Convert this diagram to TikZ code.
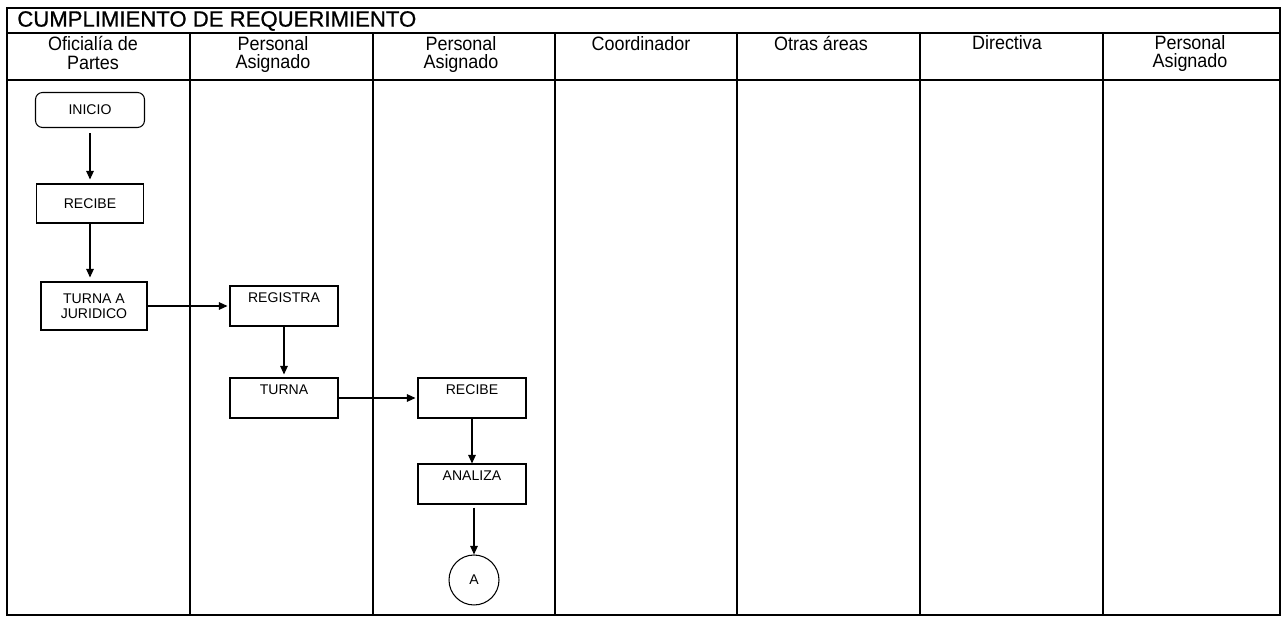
\documentclass[tikz,border=0pt]{standalone}
\usepackage{fontspec}
\setmainfont{Liberation Sans}
\newfontfamily\narrowfont[FakeStretch=0.93]{Liberation Sans}
\newfontfamily\titlefont[FakeBold=0.8]{Liberation Sans}
\usetikzlibrary{arrows.meta}

\tikzset{
  lane/.style={line width=0.8pt},
  lanehead/.style={anchor=north, align=center, inner sep=0pt,
    font=\narrowfont\fontsize{11}{10.6}\selectfont},
  caja/.style={draw, line width=0.6pt, align=center, inner sep=0pt,
    font=\fontsize{8}{8.8}\selectfont},
  cajaarriba/.style={caja, text height=2.2mm, text depth=3.4mm, inner ysep=1.2mm,
    minimum width=2.16cm},
  flecha/.style={line width=0.6pt, -{Triangle[length=1.7mm,width=1.5mm]}}
}

\begin{document}
\begin{tikzpicture}[x=0.02cm, y=-0.02cm]
  \useasboundingbox (0,0) rectangle (1285,617);
  % marco y carriles
  \draw [lane] (7,8) rectangle (1280,615);
  \draw [lane] (7,33) -- (1280,33);
  \draw [lane] (7,80) -- (1280,80);
  \foreach \x in {190,373,555,737,920,1103}
    \draw [lane] (\x,33) -- (\x,615);
  \node (titulo) at (17,21) [anchor=west, inner sep=0pt, font=\titlefont\fontsize{12.6}{12.6}\selectfont] {CUMPLIMIENTO DE REQUERIMIENTO};
  \node (h1) at (93,36) [lanehead] {Oficialía de\\Partes};
  \node (h2) at (273,36) [lanehead] {Personal\\Asignado};
  \node (h3) at (461,36) [lanehead] {Personal\\Asignado};
  \node (h4) at (641,36) [lanehead] {Coordinador};
  \node (h5) at (821,36) [lanehead] {Otras áreas};
  \node (h6) at (1007,35) [lanehead] {Directiva};
  \node (h7) at (1190,35) [lanehead] {Personal\\Asignado};
  % actividades
  \node (inicio) at (90,110) [caja, rounded corners=4pt, minimum width=2.18cm, minimum height=0.7cm] {INICIO};
  \node (recibe) at (90,206) [caja, minimum width=2.14cm, minimum height=0.78cm, yshift=0.05cm] {RECIBE};
  \node (turnaj) at (94,306) [caja, minimum width=2.12cm, minimum height=0.96cm] {TURNA A\\JURIDICO};
  \node (registra) at (284,306) [cajaarriba] {REGISTRA};
  \node (turna) at (284,398) [cajaarriba] {TURNA};
  \node (recibe2) at (472,398) [cajaarriba] {RECIBE};
  \node (analiza) at (472,484) [cajaarriba] {ANALIZA};
  \node (conA) at (474,580) [caja, circle, minimum size=1cm] {A};
  % conectores
  \draw [flecha, shorten <=0.1cm, shorten >=0.08cm] (inicio) -- (recibe);
  \draw [flecha, shorten >=0.08cm] (recibe.south) -- (recibe.south |- turnaj.north);
  \draw [flecha, shorten >=0.04cm] (turnaj) -- (registra);
  \draw [flecha, shorten >=0.06cm] (registra) -- (turna);
  \draw [flecha, shorten >=0.04cm] (turna) -- (recibe2);
  \draw [flecha] (recibe2) -- (analiza);
  \draw [flecha, shorten <=0.06cm] (analiza.south -| conA) -- (conA);
\end{tikzpicture}
\end{document}
